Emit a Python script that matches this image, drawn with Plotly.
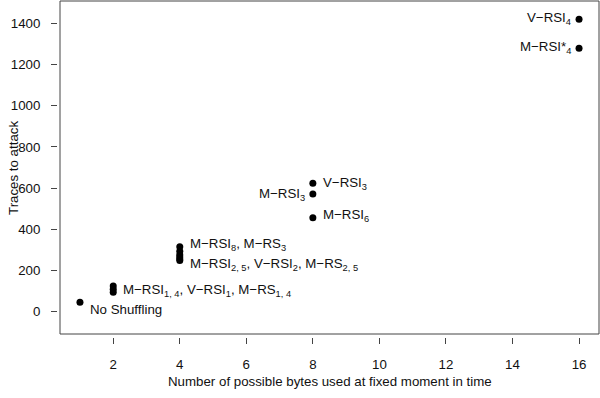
import plotly.graph_objects as go

# ---- data ----
x_vals = [1, 2, 2, 2, 4, 4, 4, 4, 4, 4, 8, 8, 8, 16, 16]
y_vals = [44, 93, 108, 124, 248, 255, 265, 275, 292, 315, 456, 571, 623, 1280, 1421]

label_text = [
    "No Shuffling",
    "M−RSI<sub>1, 4</sub>, V−RSI<sub>1</sub>, M−RS<sub>1, 4</sub>",
    "M−RSI<sub>8</sub>, M−RS<sub>3</sub>",
    "M−RSI<sub>2, 5</sub>, V−RSI<sub>2</sub>, M−RS<sub>2, 5</sub>",
    "V−RSI<sub>3</sub>",
    "M−RSI<sub>3</sub>",
    "M−RSI<sub>6</sub>",
    "V−RSI<sub>4</sub>",
    "M−RSI*<sub>4</sub>",
]
label_x = [1, 2, 4, 4, 8, 8, 8, 16, 16]
label_y = [44, 108, 315, 248, 623, 571, 456, 1421, 1280]
label_side = ["right", "right", "right", "right", "right", "left", "right", "left", "left"]
label_dy = [-7, -1.5, 2, -4.5, 0, 0, 2, 1, 1]

x_ticks = [2, 4, 6, 8, 10, 12, 14, 16]
y_ticks = [0, 200, 400, 600, 800, 1000, 1200, 1400]

x_title = "Number of possible bytes used at fixed moment in time"
y_title = "Traces to attack"

# ---- layout geometry ----
W, H = 600, 398
L, R, T, B = 57, 0, 1, 61
pw, ph = W - L - R, H - T - B
GAP = 3
FS = 13.3

FONT = "Liberation Sans, Arial, Helvetica, sans-serif"
TXT = "#111111"
AX = "#444444"

fig = go.Figure()
fig.add_trace(go.Scatter(
    x=x_vals, y=y_vals, mode="markers",
    marker=dict(color="black", size=7, line=dict(width=0)),
    hoverinfo="skip", showlegend=False,
))

for t, lx, ly, side, dy in zip(label_text, label_x, label_y, label_side, label_dy):
    fig.add_annotation(
        x=lx, y=ly, xref="x", yref="y", text=t, showarrow=False,
        xanchor="left" if side == "right" else "right", yanchor="middle",
        xshift=8 if side == "right" else -6, yshift=dy,
        font=dict(family=FONT, size=FS, color=TXT),
    )

fig.add_annotation(
    x=(60 + 599 - 2 * L) / 2 / pw, y=(H - B - 381) / ph, xref="paper", yref="paper",
    text=x_title, showarrow=False, xanchor="center", yanchor="middle",
    font=dict(family=FONT, size=FS, color=TXT),
)
fig.add_annotation(
    x=(13 - L) / pw, y=(H - B - 168) / ph, xref="paper", yref="paper",
    text=y_title, showarrow=False, xanchor="center", yanchor="middle", textangle=-90,
    font=dict(family=FONT, size=FS, color=TXT),
)

fig.add_shape(type="rect", xref="x domain", yref="y domain",
              x0=0, x1=1, y0=0, y1=1, line=dict(color=AX, width=1))

fig.update_layout(
    width=W, height=H,
    margin=dict(l=L, r=R, t=T, b=B, pad=0),
    paper_bgcolor="white", plot_bgcolor="white",
    font=dict(family=FONT, size=FS, color=TXT),
    hovermode=False,
    xaxis=dict(
        domain=[GAP / pw, (599 - L) / pw], range=[0.4, 16.6],
        anchor="free", position=0,
        tickvals=x_ticks, ticks="outside", ticklen=6, tickcolor=AX, tickwidth=1,
        showline=False, showgrid=False, zeroline=False, automargin=False,
        ticklabelstandoff=9, fixedrange=True,
        tickfont=dict(family=FONT, size=FS, color=TXT),
    ),
    yaxis=dict(
        domain=[GAP / ph, 1], range=[-110, 1510],
        anchor="free", position=0,
        tickvals=y_ticks, ticks="outside", ticklen=6, tickcolor=AX, tickwidth=1,
        showline=False, showgrid=False, zeroline=False, automargin=False,
        ticklabelstandoff=8, fixedrange=True,
        tickfont=dict(family=FONT, size=FS, color=TXT),
    ),
)

fig.write_html("out.html", config={"displayModeBar": False},
               post_script="document.body.style.margin='0';document.body.style.padding='0';")
